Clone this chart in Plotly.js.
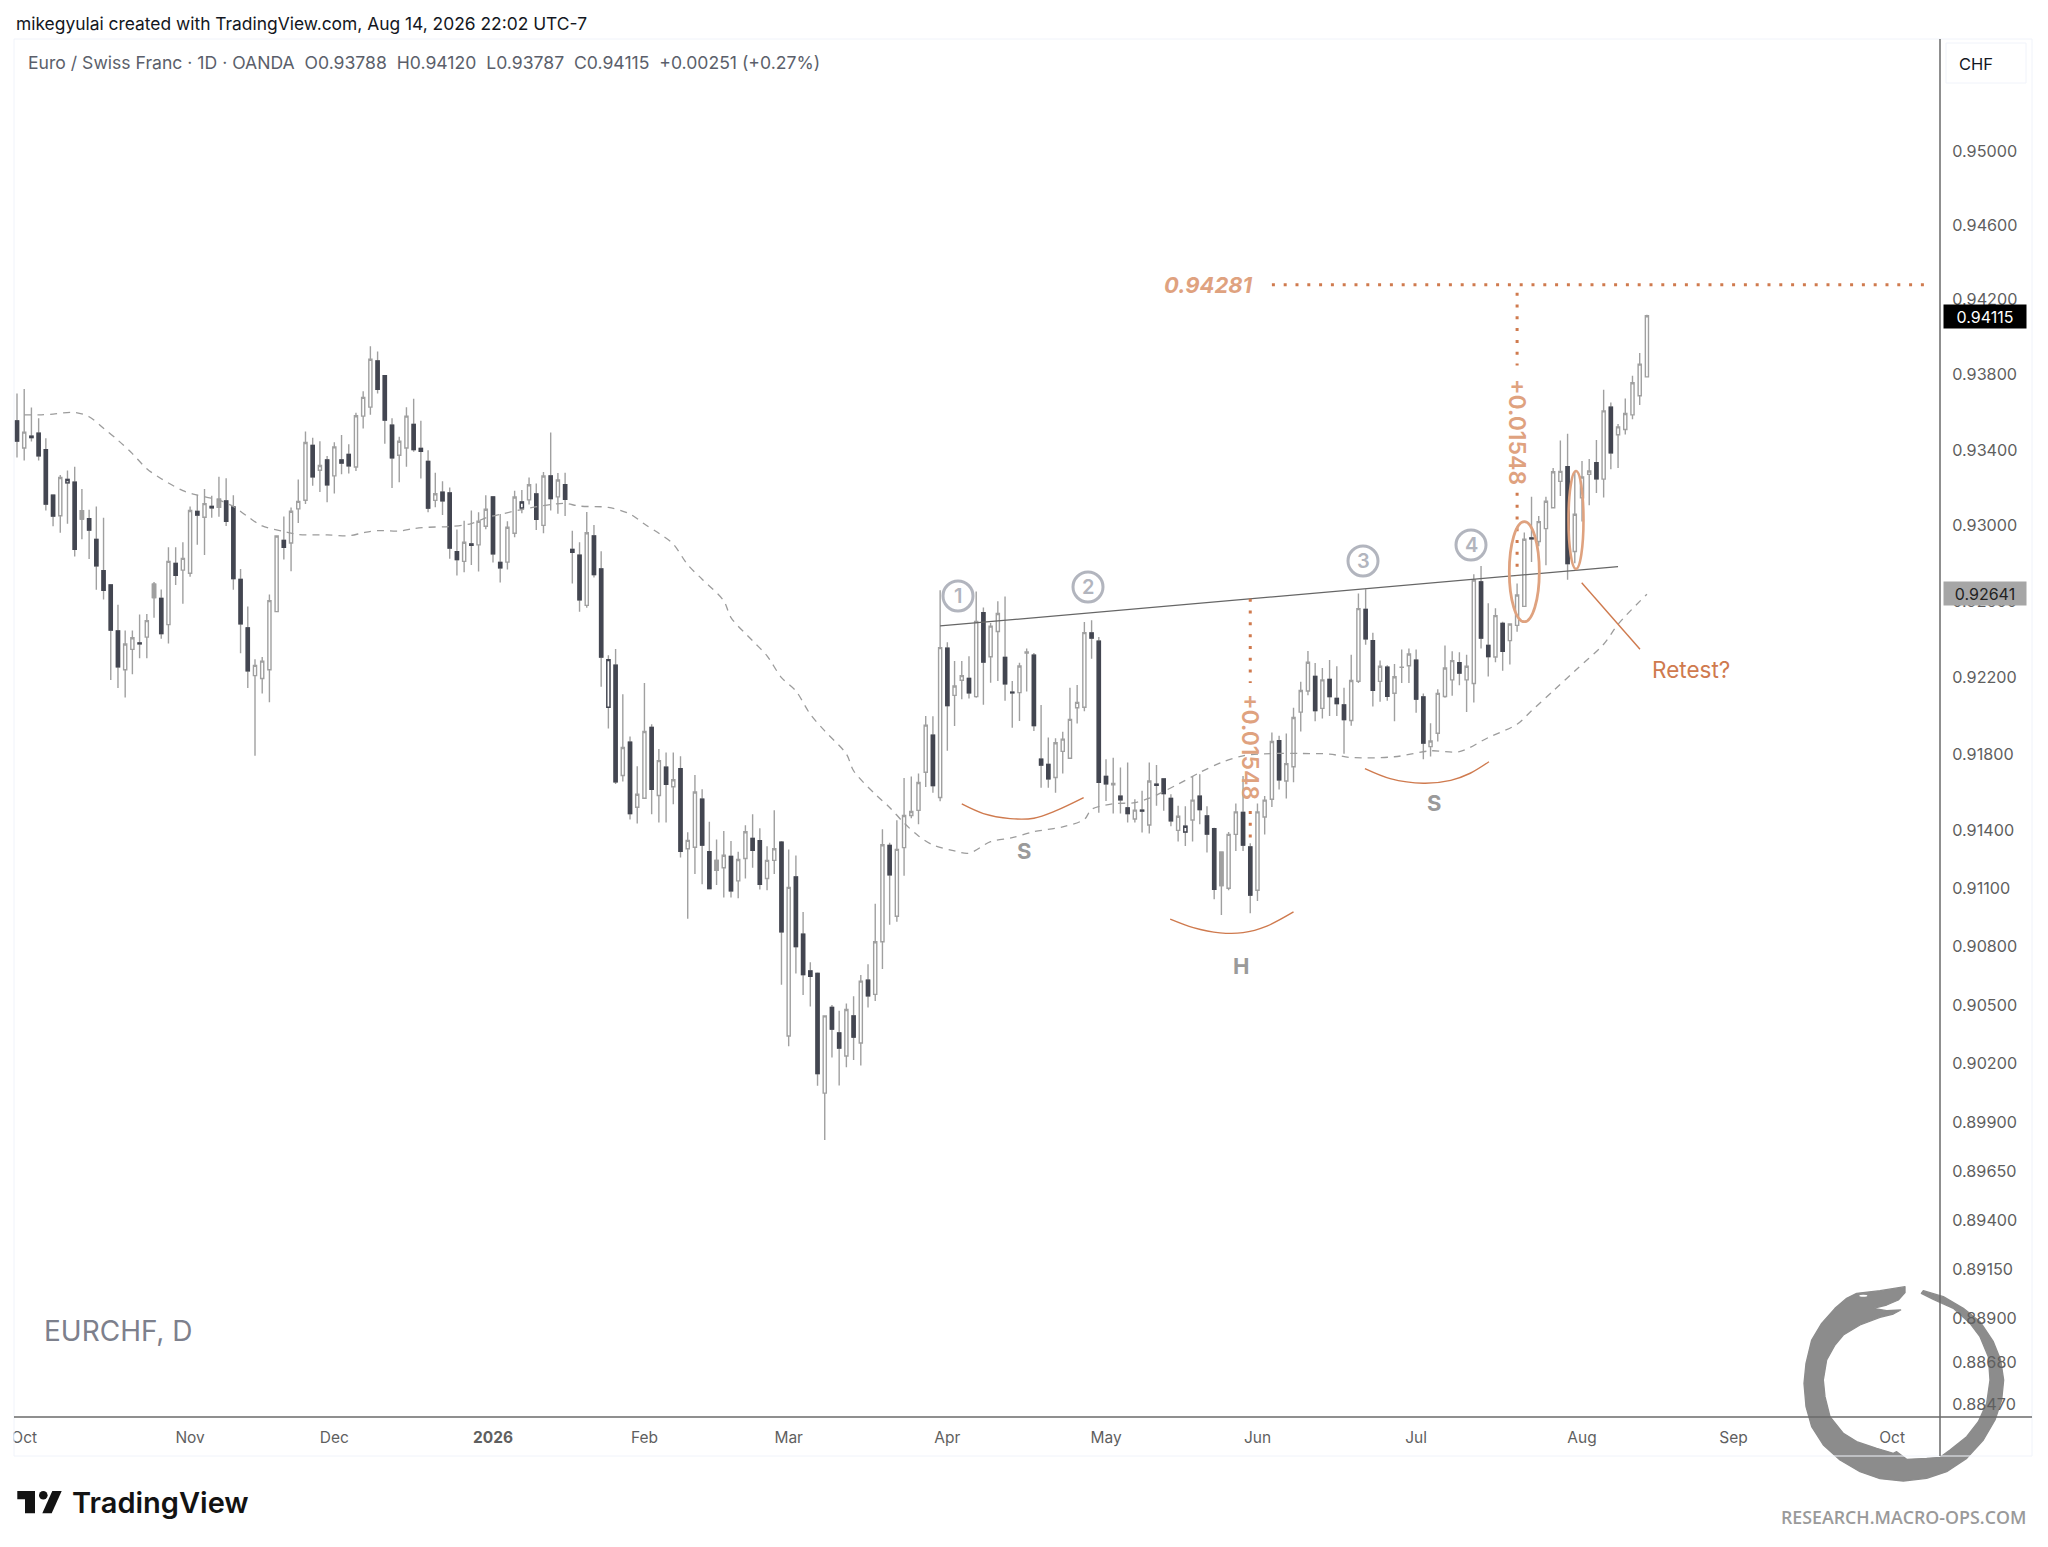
<!DOCTYPE html>
<html>
<head>
<meta charset="utf-8">
<script src="https://cdn.plot.ly/plotly-3.0.1.min.js"></script>
<style>
html,body{margin:0;padding:0;background:#fff;width:2048px;height:1547px;overflow:hidden}
#bg{position:absolute;left:0;top:0;z-index:0}
#chart{position:absolute;left:0;top:0;width:2048px;height:1547px;z-index:1}
</style>
</head>
<body>
<svg id="bg" width="2048" height="1547" viewBox="0 0 2048 1547">
  <g transform="translate(1680,1240) scale(0.33333)">
    <path fill="#8c8c8c" stroke="#8c8c8c" stroke-width="4" stroke-linejoin="round" d="M675,140 L600,152 L530,160 L500,175 L465,205 L425,250 L395,300 L378,370 L372,430 L378,500 L395,560 L430,615 L480,660 L540,695 L600,716 L670,723 L740,715 L800,695 L860,655 L910,600 L945,540 L965,480 L971,420 L962,360 L940,305 L900,245 L850,205 L790,170 L730,152 L724,160 L760,178 L820,205 L870,250 L900,290 L925,350 L930,420 L920,490 L895,545 L860,590 L810,630 L780,652 L740,655 L680,658 L650,635 L640,640 L590,625 L530,605 L490,580 L450,530 L435,470 L430,420 L440,360 L465,315 L490,285 L540,255 L600,232 L640,222 L662,210 L620,212 L580,205 L620,195 L655,180 L675,158 Z"/>
    <ellipse cx="550" cy="167" rx="12" ry="3" fill="#fff"/>
  </g>
  <g fill="#131313">
    <path d="M17.3,1491 H35 V1513.3 H25 V1499.3 H17.3 Z"/>
    <circle cx="43.3" cy="1495.3" r="4.3"/>
    <path d="M52.3,1491 H61.7 L51.7,1513.3 H42.3 Z"/>
  </g>
</svg>
<div id="chart"></div>
<script>
// ---- Candles: one entry per trading bar ----
const barKind =
  "DUDDDDUODG"+"DDDDDUUDUG"+"DUDUUDUDGD"+"DDDUUUUDUU"+"UDUDUDDUUU"+"DDDUUDDDUD"+"DDUDUUDDUU"+
  "OUDUDUDDDU"+"DDODUDUUDU"+"DUDUUDDGUD"+"UUDDUUDUDD"+"DDUDDUDUDU"+"UDUUUUUDUD"+"UUDUDUUDDU"+
  "UDDDUUUUUD"+"DDUDDUDUDD"+"DUOUDDDGUU"+"DDUUUDUUUU"+"DUDDDUUDDU"+"DUUUDDUUUU"+"DUUDDUDUUU"+
  "DUUUUDUUUD"+"UDUUUUU";

const barHigh = [
  .93700,.93723,.93625,.93568,.93462,.93160,.93267,.93290,.93311,.93192,
  .93082,.93100,.93040,.92690,.92581,.92446,.92446,.92530,.92533,.92701,
  .92662,.92884,.92884,.92911,.93100,.93162,.93192,.93157,.93257,.93250,
  .93160,.92770,.92572,.92295,.92307,.92636,.92946,.93047,.93095,.93243,
  .93497,.93464,.93446,.93368,.93440,.93479,.93430,.93597,.93711,.93951,
  .93923,.93795,.93568,.93469,.93627,.93672,.93554,.93398,.93278,.93234,
  .93200,.92978,.93025,.93079,.93070,.93160,.93155,.93060,.93022,.93183,
  .93187,.93254,.93222,.93282,.93492,.93277,.93279,.92971,.92911,.93071,
  .93002,.92863,.92316,.92349,.92112,.91891,.91736,.92170,.91955,.91826,
  .91807,.91807,.91788,.91392,.91690,.91616,.91447,.91355,.91399,.91346,
  .91291,.91428,.91486,.91413,.91320,.91506,.91346,.91303,.91272,.90979,
  .90719,.90666,.90445,.90499,.90469,.90507,.90544,.90653,.90709,.91021,
  .91407,.91338,.91454,.91674,.91682,.91698,.91998,.91996,.92658,.92384,
  .92286,.92286,.92311,.92651,.92567,.92486,.92600,.92625,.92181,.92277,
  .92351,.92328,.92056,.91885,.91882,.91915,.92146,.92160,.92491,.92500,
  .92412,.91772,.91780,.91729,.91755,.91564,.91608,.91755,.91742,.91669,
  .91589,.91530,.91527,.91685,.91694,.91527,.91415,.91290,.91393,.91542,
  .91685,.91335,.91542,.91580,.91912,.91895,.91907,.92041,.92177,.92339,
  .92276,.92249,.92291,.92258,.92146,.92319,.92640,.92663,.92434,.92288,
  .92263,.92270,.92346,.92351,.92346,.92115,.91960,.92138,.92367,.92337,
  .92332,.92319,.92742,.92785,.92589,.92563,.92492,.92483,.92693,.92963,
  .93151,.93050,.93151,.93304,.93450,.93485,.93288,.93341,.93352,.93453,
  .93719,.93652,.93538,.93673,.93794,.93916,.94120
];
const barTop = [
  .93554,.93494,.93472,.93488,.93401,.93160,.93253,.93243,.93228,.93077,
  .93035,.92925,.92761,.92686,.92443,.92375,.92408,.92380,.92498,.92690,
  .92615,.92810,.92799,.92826,.93079,.93073,.93115,.93100,.93139,.93129,
  .93098,.92714,.92460,.92263,.92285,.92603,.92944,.92921,.93075,.93127,
  .93439,.93424,.93317,.93346,.93416,.93346,.93376,.93581,.93679,.93882,
  .93873,.93795,.93531,.93446,.93579,.93535,.93408,.93339,.93167,.93176,
  .93171,.92861,.92911,.92902,.93022,.93085,.93150,.92804,.92990,.93150,
  .93124,.93215,.93166,.93261,.93261,.93240,.93215,.92873,.92843,.92961,
  .92944,.92770,.92293,.92264,.91833,.91861,.91590,.91917,.91938,.91765,
  .91730,.91665,.91723,.91350,.91601,.91564,.91291,.91246,.91273,.91266,
  .91251,.91395,.91360,.91348,.91246,.91306,.91341,.91106,.91160,.90864,
  .90674,.90661,.90443,.90486,.90355,.90476,.90443,.90622,.90627,.90825,
  .91327,.91324,.91303,.91479,.91500,.91651,.91950,.91897,.92356,.92353,
  .92155,.92209,.92195,.92493,.92539,.92469,.92535,.92304,.92122,.92260,
  .92334,.92316,.91772,.91745,.91858,.91877,.91980,.92069,.92435,.92433,
  .92390,.91682,.91646,.91580,.91519,.91507,.91507,.91659,.91642,.91669,
  .91568,.91475,.91423,.91559,.91580,.91477,.91411,.91288,.91381,.91498,
  .91495,.91316,.91498,.91559,.91865,.91869,.91749,.91990,.92131,.92279,
  .92205,.92187,.92189,.92090,.92056,.92184,.92561,.92557,.92393,.92258,
  .92253,.92203,.92254,.92323,.92290,.92097,.91867,.92116,.92249,.92288,
  .92277,.92258,.92712,.92702,.92367,.92524,.92483,.92480,.92633,.92927,
  .92933,.93020,.93128,.93284,.93286,.93311,.93059,.93256,.93288,.93332,
  .93607,.93627,.93522,.93593,.93757,.93856,.94115
];
const barBottom = [
  .93447,.93410,.93465,.93369,.93113,.93049,.93051,.93225,.92873,.93033,
  .92975,.92787,.92658,.92448,.92255,.92240,.92347,.92376,.92411,.92619,
  .92430,.92477,.92736,.92764,.92747,.93055,.93043,.93093,.93096,.93022,
  .92719,.92481,.92235,.92209,.92194,.92240,.92545,.92884,.92907,.93087,
  .93133,.93257,.93292,.93215,.93262,.93330,.93315,.93309,.93579,.93627,
  .93722,.93558,.93358,.93371,.93410,.93401,.93392,.93091,.93132,.93130,
  .92880,.92819,.92810,.92895,.92897,.92995,.92850,.92776,.92806,.92958,
  .93092,.93135,.93032,.93000,.93142,.93151,.93138,.92858,.92608,.92578,
  .92741,.92307,.92044,.91655,.91687,.91489,.91522,.91569,.91616,.91583,
  .91641,.91629,.91293,.91306,.91314,.91325,.91100,.91194,.91208,.91089,
  .91140,.91256,.91298,.91122,.91152,.91246,.90876,.90340,.90800,.90656,
  .90647,.90147,.90047,.90375,.90278,.90237,.90334,.90304,.90546,.90554,
  .90825,.91171,.90957,.91312,.91479,.91506,.91704,.91635,.91573,.92053,
  .92106,.92185,.92119,.92099,.92281,.92308,.92441,.92167,.92119,.92120,
  .92327,.91948,.91742,.91670,.91677,.91813,.91777,.92041,.92044,.92407,
  .91652,.91644,.91639,.91561,.91489,.91461,.91502,.91430,.91636,.91593,
  .91452,.91402,.91393,.91456,.91510,.91383,.91096,.91116,.91102,.91381,
  .91325,.91066,.91091,.91471,.91564,.91665,.91659,.91733,.92018,.92129,
  .92026,.92038,.92099,.92063,.91979,.91974,.92180,.92402,.92133,.92179,
  .92101,.92117,.92253,.92261,.92086,.91857,.91838,.91908,.92100,.92187,
  .92223,.92187,.92168,.92406,.92309,.92307,.92337,.92393,.92473,.92573,
  .92929,.92915,.92983,.93093,.93233,.92798,.92862,.93146,.93270,.93247,
  .93245,.93384,.93480,.93508,.93586,.93688,.93788
];
const barLow = [
  .93360,.93344,.93444,.93344,.93078,.92995,.92961,.93009,.92836,.92927,
  .92822,.92660,.92609,.92186,.92145,.92095,.92217,.92300,.92300,.92513,
  .92403,.92378,.92685,.92587,.92729,.92897,.92843,.93040,.93046,.92997,
  .92660,.92326,.92145,.91790,.92115,.92070,.92545,.92820,.92758,.93012,
  .93113,.93210,.93176,.93122,.93169,.93271,.93275,.93288,.93513,.93586,
  .93700,.93433,.93198,.93228,.93311,.93390,.93248,.93070,.93096,.93055,
  .92824,.92736,.92752,.92791,.92757,.92979,.92804,.92698,.92767,.92937,
  .93064,.93110,.92976,.92958,.93078,.93062,.93049,.92693,.92544,.92566,
  .92725,.92151,.91932,.91643,.91656,.91458,.91437,.91569,.91486,.91443,
  .91443,.91538,.91261,.90944,.91175,.91122,.91097,.91119,.91054,.91054,
  .91050,.91152,.91208,.91095,.91091,.91176,.90604,.90287,.90661,.90551,
  .90491,.90085,.89808,.90229,.90086,.90180,.90217,.90189,.90486,.90520,
  .90684,.90913,.90928,.91166,.91465,.91433,.91628,.91598,.91553,.91816,
  .91945,.92086,.92089,.92094,.92057,.92172,.92181,.92077,.91937,.91972,
  .92126,.91920,.91624,.91624,.91598,.91698,.91777,.91959,.92023,.92298,
  .91494,.91555,.91489,.91489,.91443,.91443,.91391,.91386,.91530,.91504,
  .91423,.91344,.91321,.91344,.91434,.91287,.91045,.90963,.91091,.91295,
  .91295,.90972,.91036,.91381,.91523,.91615,.91568,.91652,.91917,.92106,
  .91971,.91985,.91998,.91998,.91801,.91947,.92170,.92371,.92047,.92073,
  .92077,.91971,.92170,.92170,.92015,.91772,.91787,.91864,.92093,.92104,
  .92159,.92019,.92068,.92351,.92205,.92279,.92235,.92267,.92439,.92573,
  .92807,.92890,.92790,.93091,.93155,.92713,.92800,.93020,.93107,.93171,
  .93148,.93297,.93304,.93481,.93563,.93638,.93787
];

// ---- Dashed moving average, sampled at these bars ----
const maBars = [1,3,5,8,10,12,14,16,18,20,23,25,28,30,32,34,37,39,43,46,48,50,53,55,57,60,63,65,67,70,
  74,76,78,82,85,87,89,91,93,95,98,99,102,104,106,108,110,112,115,116,119,121,123,125,127,130,132,135,138,
  141,145,148,149,152,155,157,161,164,167,170,174,178,182,185,191,196,200,204,208,210,213,216,220,222,226];
const maValues = [.93586,.93586,.93590,.93599,.93576,.93515,.93451,.93380,.93300,.93247,.93184,.93160,.93133,.93100,.93046,.92997,.92968,.92952,.92950,.92945,.92961,.92972,.92970,.92983,.92990,.92994,.93009,.93040,.93058,.93084,
  .93110,.93116,.93102,.93095,.93060,.93007,.92958,.92901,.92792,.92716,.92602,.92514,.92392,.92313,.92199,.92129,.92007,.91920,.91799,.91712,.91590,.91521,.91440,.91373,.91326,.91295,.91283,.91343,.91364,
  .91395,.91420,.91459,.91511,.91540,.91546,.91569,.91642,.91703,.91755,.91790,.91802,.91802,.91799,.91781,.91785,.91816,.91812,.91885,.91955,.92025,.92129,.92234,.92374,.92479,.92637];

// ---- Axis ticks ----
const monthTickBars = [1,24,44,66,87,107,129,151,172,194,217,238,260];
const monthTickLabels = ["Oct","Nov","Dec","<b>2026</b>","Feb","Mar","Apr","May","Jun","Jul","Aug","Sep","Oct"];
const priceTicks = [.95,.946,.942,.938,.934,.93,.926,.922,.918,.914,.911,.908,.905,.902,.899,.8965,.894,.8915,.889,.8868,.8847];

// ---- Drawn annotations on the chart (bar, price) ----
const necklineBars = [128,222], necklinePrices = [.92470,.92782];
const targetLineBars = [174,265], targetLinePrices = [.94281,.94281];
const upperRuleBars = [208,208], upperRuleTopPrices = [.94238,.93849], upperRuleLowPrices = [.93172,.92734];
const lowerRuleBars = [171,171], lowerRuleTopPrices = [.92613,.92171], lowerRuleLowPrices = [.91503,.91321];
const arcLeftBars = [131,134,137.7,141,144,147.9], arcLeftPrices = [.91539,.91489,.91463,.91465,.91503,.91572];
const arcHeadBars = [159.9,163.1,166.8,170,173.3,177], arcHeadPrices = [.90942,.90898,.90871,.90872,.90906,.90979];
const arcRightBars = [186.9,190.4,195,198.8,201.5,204.1], arcRightPrices = [.91723,.91671,.91647,.91662,.91699,.91759];

// ---- Layout helpers (page pixels to paper fractions) ----
const W=2048,H=1547, L=14,R=1940,T=39,B=1417;
const px = x => (x-L)/(R-L);
const py = y => 1-(y-T)/(B-T);
const barX0=17, barStep=7.212;
const rangeX=[(L-barX0)/barStep,(R-barX0)/barStep];
const k=17595, p0=.95, y0=151;
const priceAt = y => p0*Math.exp(-(y-y0)/k);
const rangeY=[Math.log10(priceAt(B)),Math.log10(priceAt(T))];

const idx = barKind.split("").map((_,i)=>i);
const openVal = idx.map(i=>barKind[i]==="D"?barTop[i]:barBottom[i]);
const closeVal = idx.map(i=>barKind[i]==="D"?barBottom[i]:barTop[i]);

const GRAY="#a0a0a0", DARK="#434651", ORANGE="#cf7a4e", SOFT="#dfa27f", RING="#b2b5be";

function bodies(kind, lineC, fillC){
  const s=idx.filter(i=>barKind[i]===kind);
  const t=s.map(i=>barTop[i]), b=s.map(i=>barBottom[i]);
  const down=kind==="D";
  return {type:"candlestick",x:s,open:down?t:b,close:down?b:t,high:t,low:b,
    increasing:{line:{color:lineC,width:1.4},fillcolor:fillC},
    decreasing:{line:{color:lineC,width:1.4},fillcolor:fillC},hoverinfo:"skip",showlegend:false};
}
function line(x,y,color,width,dash,shape){
  return {type:"scatter",mode:"lines",x:x,y:y,hoverinfo:"skip",showlegend:false,
    line:{color:color,width:width,dash:dash||"solid",shape:shape||"linear",smoothing:0.9}};
}

const traces=[
  {type:"candlestick",x:idx,open:openVal,high:barHigh,low:barLow,close:closeVal,
    increasing:{line:{color:GRAY,width:1.4},fillcolor:"#ffffff"},
    decreasing:{line:{color:GRAY,width:1.4},fillcolor:DARK},hoverinfo:"skip",showlegend:false},
  bodies("D",DARK,DARK),
  bodies("G",GRAY,GRAY),
  bodies("O",DARK,"#ffffff"),
  line(maBars,maValues,"#9c9c9c",1.3,"7px,6px","spline"),
  line(necklineBars,necklinePrices,"#666666",1.3),
  line(targetLineBars,targetLinePrices,ORANGE,3,"3px,8.8px"),
  line(upperRuleBars,upperRuleTopPrices,ORANGE,3,"3px,8.8px"),
  line(upperRuleBars,upperRuleLowPrices,ORANGE,3,"3px,8.8px"),
  line(lowerRuleBars,lowerRuleTopPrices,ORANGE,3,"3px,8.8px"),
  line(lowerRuleBars,lowerRuleLowPrices,ORANGE,3,"3px,8.8px"),
  line(arcLeftBars,arcLeftPrices,ORANGE,1.4,"solid","spline"),
  line(arcHeadBars,arcHeadPrices,ORANGE,1.4,"solid","spline"),
  line(arcRightBars,arcRightPrices,ORANGE,1.4,"solid","spline")
];

const FONT="Inter, 'Liberation Sans', sans-serif";
function note(text,x,y,size,color,opt){
  return Object.assign({text:text,xref:"paper",yref:"paper",x:px(x),y:py(y),showarrow:false,
    xanchor:"left",yanchor:"middle",font:{family:FONT,size:size,color:color}},opt||{});
}
function ring(cx,cy,r,color,w){
  return {type:"circle",xref:"paper",yref:"paper",x0:px(cx-r),x1:px(cx+r),y0:py(cy+r),y1:py(cy-r),
    line:{color:color,width:w}};
}
function seg(x0,y0,x1,y1,color,w){
  return {type:"line",xref:"paper",yref:"paper",x0:px(x0),x1:px(x1),y0:py(y0),y1:py(y1),line:{color:color,width:w}};
}
function oval(cx,cy,rx,ry,color,w){
  return {type:"circle",xref:"paper",yref:"paper",x0:px(cx-rx),x1:px(cx+rx),y0:py(cy+ry),y1:py(cy-ry),line:{color:color,width:w}};
}

const FRAME="#f0f3fa";
const shapes=[
  {type:"rect",xref:"paper",yref:"paper",x0:px(0),x1:px(13.5),y0:py(1450),y1:py(1420),fillcolor:"#ffffff",line:{width:0}},
  seg(14,39,2032,39,FRAME,1), seg(14,1456,2032,1456,FRAME,1), seg(14,39,14,1456,FRAME,1), seg(2032,39,2032,1456,FRAME,1),
  seg(14,1417,2032,1417,"#6a6a6a",1.5), seg(1940,39,1940,1456,"#6a6a6a",1.5),
  {type:"rect",xref:"paper",yref:"paper",x0:px(1946),x1:px(2026),y0:py(83),y1:py(43),line:{color:FRAME,width:1}},
  ring(958,596,15,RING,3), ring(1088,587,15,RING,3), ring(1363,561,15,RING,3), ring(1471,545,15,RING,3),
  oval(1524.3,571.7,15,50,SOFT,2.8), oval(1576,520,7.5,49,SOFT,2.6),
  seg(1581.7,582.7,1640,649.3,ORANGE,1.4)
];

const annotations=[
  note("mikegyulai created with TradingView.com, Aug 14, 2026 22:02 UTC-7",14,23,17.4,"#131722"),
  note("Euro / Swiss Franc · 1D · OANDA&nbsp;&nbsp;O0.93788&nbsp;&nbsp;H0.94120&nbsp;&nbsp;L0.93787&nbsp;&nbsp;C0.94115&nbsp;&nbsp;+0.00251 (+0.27%)",26,62,17.6,"#5b5f6b"),
  note("CHF",1976,64,16.5,"#131722",{xanchor:"center"}),
  note("EURCHF, D",42,1331,28,"#7d808c"),
  note("TradingView",70,1502,29,"#131313",{font:{family:FONT,size:29,color:"#131313",weight:600}}),
  note("RESEARCH.MACRO-OPS.COM",2028,1517,17.8,"#9a9a9a",{xanchor:"right",font:{family:"'Open Sans', sans-serif",size:17.8,color:"#9a9a9a",weight:600}}),
  note("0.94115",1985,316,16,"#ffffff",{xanchor:"center",bgcolor:"#000000",width:80,height:21,align:"center"}),
  note("0.92641",1985,593,16,"#222222",{xanchor:"center",bgcolor:"#a6a6a6",width:80,height:21,align:"center"}),
  note("0.94281",1208,285,22,SOFT,{xanchor:"center",font:{family:FONT,size:22,color:SOFT,weight:700,style:"italic"}}),
  note("+0.01548",1517,432,23,SOFT,{xanchor:"center",textangle:90,font:{family:FONT,size:23,color:SOFT,weight:600}}),
  note("+0.01548",1250,747,23,SOFT,{xanchor:"center",textangle:90,font:{family:FONT,size:23,color:SOFT,weight:600}}),
  note("Retest?",1650,669,22.5,ORANGE),
  note("S",1024,851,22,"#9a9a9a",{xanchor:"center",font:{family:FONT,size:22,color:"#9a9a9a",weight:700}}),
  note("H",1241,966,22,"#9a9a9a",{xanchor:"center",font:{family:FONT,size:22,color:"#9a9a9a",weight:700}}),
  note("S",1434,803,22,"#9a9a9a",{xanchor:"center",font:{family:FONT,size:22,color:"#9a9a9a",weight:700}}),
  note("1",958,596,20,RING,{xanchor:"center",font:{family:FONT,size:20,color:RING,weight:600}}),
  note("2",1088,587,20,RING,{xanchor:"center",font:{family:FONT,size:20,color:RING,weight:600}}),
  note("3",1363,561,20,RING,{xanchor:"center",font:{family:FONT,size:20,color:RING,weight:600}}),
  note("4",1471,545,20,RING,{xanchor:"center",font:{family:FONT,size:20,color:RING,weight:600}})
];

const layout={
  width:W,height:H,margin:{l:L,r:W-R,t:T,b:H-B,pad:0},
  paper_bgcolor:"rgba(0,0,0,0)",plot_bgcolor:"rgba(0,0,0,0)",
  showlegend:false,boxgap:0.38,boxmode:"overlay",
  xaxis:{type:"linear",range:rangeX,rangeslider:{visible:false},showgrid:false,zeroline:false,showline:false,
    tickmode:"array",tickvals:monthTickBars,ticktext:monthTickLabels,ticks:"outside",ticklen:6,tickcolor:"rgba(0,0,0,0)",
    tickangle:0,tickfont:{family:FONT,size:15.5,color:"#5f5f5f"}},
  yaxis:{type:"log",range:rangeY,side:"right",showgrid:false,zeroline:false,showline:false,
    tickmode:"array",tickvals:priceTicks,ticktext:priceTicks.map(v=>v.toFixed(5)),ticks:"outside",ticklen:8,tickcolor:"rgba(0,0,0,0)",
    tickfont:{family:FONT,size:16.2,color:"#5f5f5f"}},
  shapes:shapes,annotations:annotations
};
Plotly.newPlot("chart",traces,layout,{displayModeBar:false,staticPlot:true});
</script>
</body>
</html>
